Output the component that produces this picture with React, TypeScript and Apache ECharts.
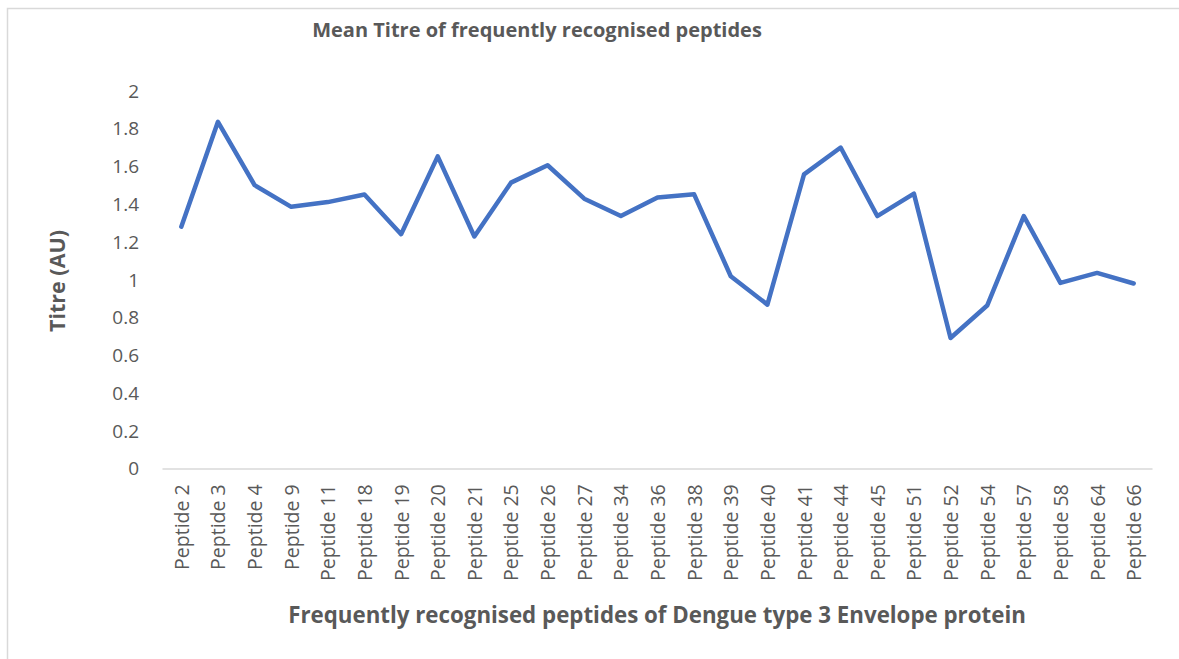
import React, { useEffect, useRef } from "react";
import * as echarts from "echarts";

const categories = [
  "Peptide 2", "Peptide 3", "Peptide 4", "Peptide 9", "Peptide 11", "Peptide 18",
  "Peptide 19", "Peptide 20", "Peptide 21", "Peptide 25", "Peptide 26", "Peptide 27",
  "Peptide 34", "Peptide 36", "Peptide 38", "Peptide 39", "Peptide 40", "Peptide 41",
  "Peptide 44", "Peptide 45", "Peptide 51", "Peptide 52", "Peptide 54", "Peptide 57",
  "Peptide 58", "Peptide 64", "Peptide 66",
];

const meanTitre = [
  1.28, 1.835, 1.5, 1.385, 1.41, 1.45,
  1.24, 1.652, 1.228, 1.513, 1.605, 1.428,
  1.336, 1.434, 1.451, 1.017, 0.867, 1.557,
  1.699, 1.336, 1.455, 0.69, 0.862, 1.336,
  0.982, 1.035, 0.979,
];

const titleText = "Mean Titre of frequently recognised peptides";
const yAxisTitle = "Titre (AU)";
const xAxisTitle = "Frequently recognised peptides of Dengue type 3 Envelope protein";

const FONT = "'Open Sans', sans-serif";
const GREY = "#595959";

export default function App() {
  const ref = useRef<HTMLDivElement>(null);
  useEffect(() => {
    if (!ref.current) return;
    const chart = echarts.init(ref.current, undefined, { renderer: "svg" });
    chart.setOption({
      animation: false,
      backgroundColor: "#ffffff",
      grid: { left: 163, right: 27, top: 90.7, bottom: 190.7, containLabel: false },
      xAxis: {
        type: "category",
        data: categories,
        boundaryGap: true,
        axisLine: { show: true, lineStyle: { color: "#d9d9d9", width: 1.5 } },
        axisTick: { show: false },
        axisLabel: {
          rotate: 90,
          interval: 0,
          margin: 16,
          color: GREY,
          fontFamily: FONT,
          fontSize: 19.5,
        },
        splitLine: { show: false },
      },
      yAxis: {
        type: "value",
        min: 0,
        max: 2,
        interval: 0.2,
        axisLine: { show: false },
        axisTick: { show: false },
        splitLine: { show: false },
        axisLabel: {
          color: GREY,
          fontFamily: FONT,
          fontSize: 19,
          margin: 24,
          formatter: (v: number) => String(Math.round(v * 10) / 10),
        },
      },
      series: [
        {
          type: "line",
          data: meanTitre,
          symbol: "none",
          lineStyle: { color: "#4472C4", width: 4.5, cap: "round", join: "round" },
          itemStyle: { color: "#4472C4" },
        },
      ],
      graphic: [
        {
          type: "polyline",
          shape: { points: [[7.5, 700], [7.5, 8.5], [1200, 8.5]] },
          style: { stroke: "#d9d9d9", lineWidth: 1.5, fill: "none" },
          silent: true,
        },
        {
          type: "text",
          x: 537,
          y: 29,
          style: {
            text: titleText,
            fontFamily: FONT,
            fontWeight: "bold",
            fontSize: 20,
            fill: GREY,
            align: "center",
            verticalAlign: "middle",
          },
        },
        {
          type: "text",
          x: 56,
          y: 281,
          rotation: Math.PI / 2,
          style: {
            text: yAxisTitle,
            fontFamily: FONT,
            fontWeight: "bold",
            fontSize: 21.5,
            fill: GREY,
            align: "center",
            verticalAlign: "middle",
          },
        },
        {
          type: "text",
          x: 657,
          y: 614,
          style: {
            text: xAxisTitle,
            fontFamily: FONT,
            fontWeight: "bold",
            fontSize: 22.3,
            fill: GREY,
            align: "center",
            verticalAlign: "middle",
          },
        },
      ],
    });
    return () => chart.dispose();
  }, []);
  return (
    <div
      ref={ref}
      style={{ position: "absolute", left: 0, top: 0, width: 1179, height: 659 }}
    />
  );
}
